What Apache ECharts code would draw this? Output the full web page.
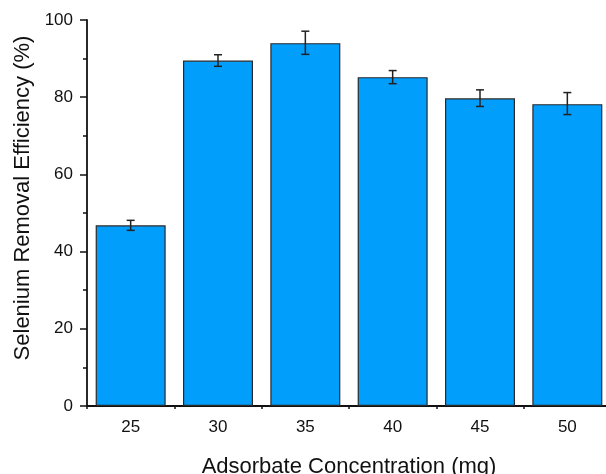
<!DOCTYPE html>
<html>
<head>
<meta charset="utf-8">
<script src="https://cdn.jsdelivr.net/npm/echarts@6/dist/echarts.min.js"></script>
<style>html,body{margin:0;padding:0;background:#fff}#c{width:606px;height:474px}</style>
</head>
<body>
<div id="c"></div>
<script>
const categories = ['25', '30', '35', '40', '45', '50'];
const efficiency = [46.8, 89.5, 94.0, 85.2, 79.7, 78.2];
const errorLow = [45.5, 88.0, 91.1, 83.5, 77.6, 75.5];
const errorHigh = [48.1, 91.0, 97.1, 86.9, 81.9, 81.2];
const yTicks = [0, 20, 40, 60, 80, 100];
const xTitle = 'Adsorbate Concentration (mg)';
const yTitle = 'Selenium Removal Efficiency (%)';

const chart = echarts.init(document.getElementById('c'));
const font = 'Liberation Sans, Arial, sans-serif';
const errData = categories.map((c, i) => [i, errorLow[i], errorHigh[i]]);

chart.setOption({
  animation: false,
  backgroundColor: '#fff',
  grid: { left: 87, top: 20, right: -5, bottom: 68, containLabel: false, outerBoundsMode: 'none' },
  graphic: [{
    type: 'text',
    x: 23,
    y: 198,
    rotation: Math.PI / 2,
    style: {
      text: yTitle,
      fontFamily: font,
      fontSize: 22,
      fill: '#111',
      align: 'center',
      verticalAlign: 'middle'
    }
  }],
  xAxis: [{
    type: 'category',
    data: categories,
    name: xTitle,
    nameLocation: 'middle',
    nameGap: 50,
    nameTextStyle: { fontFamily: font, fontSize: 22, color: '#111' },
    axisLine: { lineStyle: { color: '#111', width: 1.8 } },
    axisTick: { alignWithLabel: true, length: 7, lineStyle: { color: '#111', width: 1.5 } },
    axisLabel: { fontFamily: font, fontSize: 17, color: '#111', margin: 13 },
    splitLine: { show: false }
  }, {
    type: 'category',
    data: categories,
    position: 'bottom',
    axisLine: { show: false },
    axisTick: { show: true, length: 3, lineStyle: { color: '#111', width: 1.5 } },
    axisLabel: { show: false },
    splitLine: { show: false }
  }],
  yAxis: {
    type: 'value',
    min: yTicks[0],
    max: yTicks[yTicks.length - 1],
    interval: 20,
    axisLine: { show: true, lineStyle: { color: '#111', width: 1.8 } },
    axisTick: { show: true, length: 7, lineStyle: { color: '#111', width: 1.5 } },
    minorTick: { show: true, splitNumber: 2, length: 4, lineStyle: { color: '#111', width: 1.5 } },
    axisLabel: { fontFamily: font, fontSize: 17, color: '#111', margin: 14 },
    splitLine: { show: false }
  },
  series: [{
    type: 'bar',
    data: efficiency,
    barWidth: 70,
    itemStyle: { color: '#019EFC', borderColor: '#2a2a2a', borderWidth: 1.2 }
  }, {
    type: 'custom',
    data: errData,
    z: 10,
    renderItem: function (params, api) {
      const x = api.value(0);
      const lo = api.coord([x, api.value(1)]);
      const hi = api.coord([x, api.value(2)]);
      const w = 4;
      const st = { stroke: '#222', lineWidth: 1.5 };
      return {
        type: 'group',
        children: [
          { type: 'line', shape: { x1: lo[0], y1: lo[1], x2: hi[0], y2: hi[1] }, style: st },
          { type: 'line', shape: { x1: lo[0] - w, y1: lo[1], x2: lo[0] + w, y2: lo[1] }, style: st },
          { type: 'line', shape: { x1: hi[0] - w, y1: hi[1], x2: hi[0] + w, y2: hi[1] }, style: st }
        ]
      };
    }
  }]
});
</script>
</body>
</html>
